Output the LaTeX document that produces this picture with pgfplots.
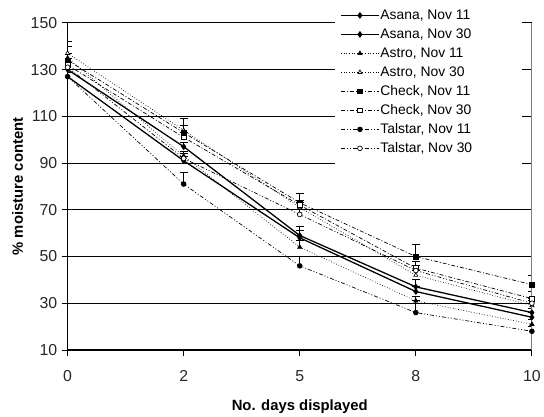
\documentclass[border=0pt]{standalone}
\usepackage{fontspec}
\setmainfont{Liberation Sans}
\usepackage{pgfplots}
\pgfplotsset{compat=1.18}

\begin{document}
\begin{tikzpicture}
  \begin{axis}[
      name=ax,
      scale only axis,
      width=467bp, height=329bp,
      xmin=0, xmax=4,
      ymin=10, ymax=150,
      xtick={0,1,2,3,4},
      xticklabels={0,2,5,8,10},
      ytick={10,30,...,150},
      axis lines=left,
      axis line style={-, line width=1pt},
      tick align=outside,
      major tick length=6bp,
      tick style={black, line width=0.8pt},
      ymajorgrids,
      grid style={black, line width=0.8pt},
      /pgf/number format/assume math mode=true,
      tick label style={font=\fontsize{16}{18}\selectfont, text=black!85},
      xticklabel style={yshift=-11bp},
      yticklabel style={xshift=-1bp},
      xlabel={\bfseries No. days displayed},
      ylabel={\bfseries \% moisture content},
      label style={font=\fontsize{15}{17}\selectfont},
      xlabel style={yshift=-11bp},
      ylabel style={yshift=1bp},
      legend style={
          at={(0.585,1.05)}, anchor=north west,
          draw=none, fill=white,
          font=\fontsize{14}{16}\selectfont,
          nodes={text height=10.5bp, text depth=3bp, inner sep=1bp},
          row sep=3.6bp, inner sep=1bp},
      legend cell align=left,
      legend image code/.code={%
          \draw[mark repeat=2, mark phase=2, #1]
            plot coordinates {(0bp,0bp) (19bp,0bp) (38bp,0bp)};},
      every axis plot/.append style={black, mark size=2.4bp,
          error bars/y dir=plus, error bars/y explicit,
          error bars/error mark options={rotate=90, mark size=4bp, line width=0.8pt, solid},
          error bars/error bar style={line width=0.8pt, solid}},
    ]

    % white area behind the legend, hiding the grid there
    \fill[white] (rel axis cs:0.575,1.02) rectangle (rel axis cs:0.979,0.56);

    \addplot[line width=1.3pt, mark=diamond*, mark options={solid}]
      coordinates {(0,127) +- (0,2) (1,91) +- (0,2) (2,58) +- (0,3) (3,35) +- (0,2) (4,24) +- (0,2)};
    \addlegendentry{Asana, Nov 11}

    \addplot[line width=1.3pt, mark=diamond*, mark options={solid}]
      coordinates {(0,130) +- (0,3) (1,97) +- (0,2) (2,59) +- (0,4) (3,37) +- (0,3) (4,26) +- (0,2)};
    \addlegendentry{Asana, Nov 30}

    \addplot[line width=0.7pt, dotted, mark=triangle*, mark options={solid}]
      coordinates {(0,135) +- (0,2) (1,93) +- (0,2) (2,54) +- (0,3) (3,31) +- (0,2) (4,21) +- (0,2)};
    \addlegendentry{Astro, Nov 11}

    \addplot[line width=0.7pt, dotted, mark=triangle*, mark options={solid, fill=white}]
      coordinates {(0,137) +- (0,3) (1,104) +- (0,2) (2,71) +- (0,2) (3,42) +- (0,2) (4,29) +- (0,2)};
    \addlegendentry{Astro, Nov 30}

    \addplot[line width=0.7pt, dash pattern=on 4pt off 2pt on 1pt off 2pt,
             mark=square*, mark options={solid}]
      coordinates {(0,134) +- (0,8) (1,103) +- (0,6) (2,73) +- (0,4) (3,50) +- (0,5) (4,38) +- (0,4)};
    \addlegendentry{Check, Nov 11}

    \addplot[line width=0.7pt, dash pattern=on 4pt off 2pt on 1pt off 2pt,
             mark=square*, mark options={solid, fill=white}]
      coordinates {(0,132) +- (0,3) (1,101) +- (0,2) (2,72) +- (0,2) (3,45) +- (0,3) (4,32) +- (0,3)};
    \addlegendentry{Check, Nov 30}

    \addplot[line width=0.7pt, dash pattern=on 4pt off 2pt on 1pt off 2pt on 1pt off 2pt,
             mark=*, mark options={solid}]
      coordinates {(0,127) +- (0,2) (1,81) +- (0,5) (2,46) +- (0,4) (3,26) +- (0,5) (4,18) +- (0,2)};
    \addlegendentry{Talstar, Nov 11}

    \addplot[line width=0.7pt, dash pattern=on 4pt off 2pt on 1pt off 2pt on 1pt off 2pt,
             mark=*, mark options={solid, fill=white}]
      coordinates {(0,131) +- (0,2) (1,92) +- (0,2) (2,68) +- (0,2) (3,44) +- (0,2) (4,30) +- (0,2)};
    \addlegendentry{Talstar, Nov 30}

    \draw[gray, line width=1pt] (rel axis cs:1,0) -- (rel axis cs:1,1);
  \end{axis}
  \path ([shift={(-68bp,-65bp)}]ax.south west) rectangle ([shift={(9bp,23bp)}]ax.north east);
\end{tikzpicture}
\end{document}
